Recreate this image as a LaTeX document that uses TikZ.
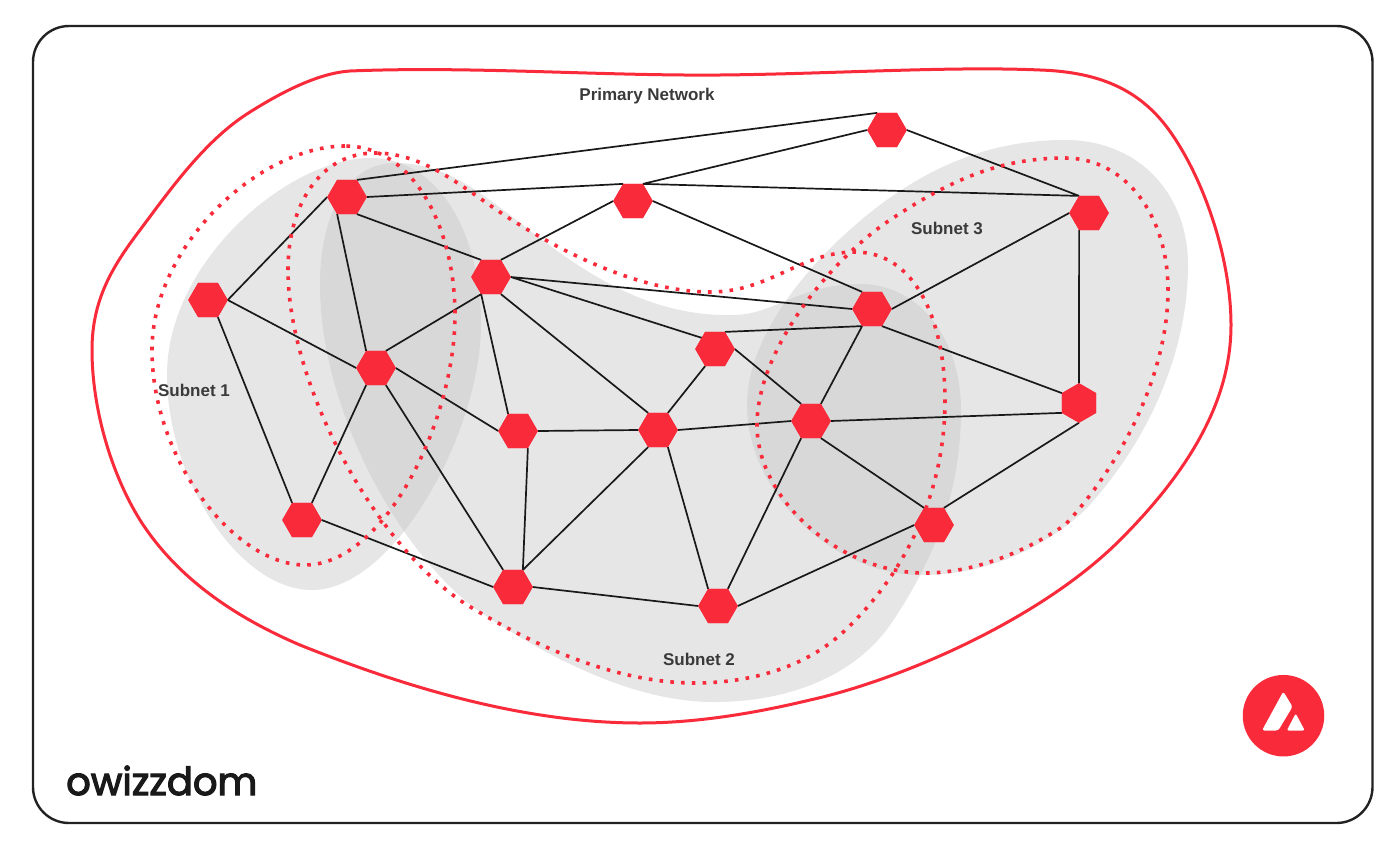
\documentclass[tikz,border=0pt]{standalone}
\usepackage{fontspec}
\setmainfont{Liberation Sans}
\newfontfamily\handfont[FakeBold=3]{Poppins}
\usetikzlibrary{shapes.geometric}
\definecolor{avared}{HTML}{F92A3A}
\definecolor{blobgray}{HTML}{E6E6E6}
\definecolor{blobdark}{HTML}{D8D8D8}
\definecolor{txtgray}{HTML}{3A3A3A}
\definecolor{frameink}{HTML}{222222}
\def\blobA{(370,158) .. controls (290,158) and (167,260) .. (167,375) .. controls (167,480) and (240,590) .. (312,590) .. controls (395,590) and (481,430) .. (481,325) .. controls (481,235) and (440,158) .. (370,158) -- cycle}
\def\blobB{(395,163) .. controls (440,163) and (470,185) .. (510,215) .. controls (570,262) and (640,318) .. (735,315) .. controls (775,314) and (800,284) .. (860,284) .. controls (920,284) and (961,340) .. (961,410) .. controls (961,490) and (935,560) .. (890,625) .. controls (855,675) and (790,702) .. (714,702) .. controls (640,702) and (560,665) .. (480,612) .. controls (400,555) and (320,410) .. (320,285) .. controls (320,210) and (350,163) .. (395,163) -- cycle}
\def\blobC{(1065,140) .. controls (1140,140) and (1188,195) .. (1188,265) .. controls (1188,350) and (1150,440) .. (1085,510) .. controls (1030,560) and (970,575) .. (921,575) .. controls (830,575) and (747,490) .. (747,405) .. controls (747,330) and (820,250) .. (880,205) .. controls (940,160) and (1000,140) .. (1065,140) -- cycle}
\tikzset{
  hexnode/.style={regular polygon,regular polygon sides=6,minimum size=39.5,inner sep=0,outer sep=0,fill=avared},
  link/.style={draw=black!90,line width=1.7},
  dotline/.style={draw=avared,line width=3.6,dash pattern=on 3.6 off 7.2},
  caption/.style={font=\bfseries\fontsize{17}{20}\selectfont,text=txtgray,inner sep=0}
}
\begin{document}
\begin{tikzpicture}[x=1pt,y=-1pt]
\useasboundingbox (0,0) rectangle (1398,844);
% frame
\draw[frameink,line width=2.4,fill=white,rounded corners=36] (33,26) rectangle (1372.5,823);
% subnet areas
\fill[blobgray] \blobA;
\fill[blobgray] \blobB;
\fill[blobgray] \blobC;
\begin{scope}\clip \blobA; \fill[blobdark] \blobB;\end{scope}
\begin{scope}\clip \blobB; \fill[blobdark] \blobC;\end{scope}
% primary network outline
\draw[avared,line width=3] (350,71) .. controls (470,66) and (600,76) .. (720,75)
 .. controls (830,74) and (950,66) .. (1040,70)
 .. controls (1100,72) and (1140,90) .. (1169,130)
 .. controls (1205,180) and (1231,260) .. (1231,325)
 .. controls (1231,400) and (1190,470) .. (1120,540)
 .. controls (1040,620) and (900,680) .. (810,700)
 .. controls (760,712) and (700,723) .. (640,723)
 .. controls (520,723) and (400,685) .. (300,645)
 .. controls (230,615) and (175,575) .. (140,520)
 .. controls (112,475) and (92,410) .. (92,350)
 .. controls (92,300) and (112,267) .. (140,230)
 .. controls (170,190) and (205,140) .. (250,112)
 .. controls (285,90) and (320,73) .. (350,71) -- cycle;
% nodes
\node[hexnode] (A) at (887,130) {};
\node[hexnode] (B) at (347,197) {};
\node[hexnode] (C) at (633,201) {};
\node[hexnode] (D) at (1089,213) {};
\node[hexnode] (E) at (491,277) {};
\node[hexnode] (F) at (208,300) {};
\node[hexnode] (G) at (872,309) {};
\node[hexnode] (H) at (715,349) {};
\node[hexnode] (I) at (376,368) {};
\node[hexnode,regular polygon rotate=30] (J) at (1079,403) {};
\node[hexnode] (K) at (518,431) {};
\node[hexnode] (L) at (658,430) {};
\node[hexnode] (M) at (811,421) {};
\node[hexnode] (N) at (302,520) {};
\node[hexnode] (O) at (934,525) {};
\node[hexnode] (P) at (513,587) {};
\node[hexnode] (Q) at (718,606) {};
% connectors
\path[link]
 (B.60)--(A.120) (C.60)--(A.180) (A.0)--(D.120) (B.0)--(C.120) (C.60)--(D.120)
 (C.180)--(E.60) (C.0)--(G.120) (B.180)--(F.0) (F.0)--(I.180) (B.-120)--(I.120)
 (B.-60)--(E.120) (F.-60)--(N.120) (E.0)--(G.180) (E.0)--(H.140) (E.-60)--(L.120)
 (E.-120)--(K.120) (E.-120)--(I.60) (I.0)--(K.180) (I.-60)--(P.120) (I.-120)--(N.60)
 (N.0)--(P.180) (K.0)--(L.180) (K.-60)--(P.60) (L.-120)--(P.60) (L.60)--(H.-120)
 (L.0)--(M.180) (L.-60)--(Q.120) (H.60)--(G.-120) (H.0)--(M.120) (G.-120)--(M.60)
 (G.0)--(D.180) (G.-60)--(J.150) (D.-120)--(J.90) (M.0)--(J.-150) (M.-60)--(O.120)
 (M.-120)--(Q.60) (J.-90)--(O.60) (O.180)--(Q.0) (P.0)--(Q.180);
% dotted subnet borders
\draw[dotline] (345,146) .. controls (260,146) and (152,245) .. (152,350)
 .. controls (152,460) and (235,565) .. (305,565)
 .. controls (385,565) and (455,420) .. (455,315)
 .. controls (455,230) and (415,146) .. (345,146) -- cycle;
\draw[dotline] (288,270) .. controls (288,205) and (320,153) .. (375,153)
 .. controls (430,153) and (470,195) .. (520,225)
 .. controls (580,262) and (650,292) .. (710,292)
 .. controls (770,292) and (800,252) .. (855,252)
 .. controls (915,252) and (945,320) .. (945,400)
 .. controls (945,510) and (890,590) .. (840,635)
 .. controls (800,670) and (745,683) .. (695,683)
 .. controls (620,683) and (540,650) .. (464,603)
 .. controls (370,540) and (288,380) .. (288,270) -- cycle;
\draw[dotline] (1065,158) .. controls (1125,158) and (1168,215) .. (1168,290)
 .. controls (1168,370) and (1125,460) .. (1065,525)
 .. controls (1020,555) and (970,573) .. (925,573)
 .. controls (840,573) and (757,500) .. (757,425)
 .. controls (757,350) and (830,260) .. (890,220)
 .. controls (950,180) and (1000,158) .. (1065,158) -- cycle;
% node bodies above the lines
\foreach \n in {A,B,C,D,E,F,G,H,I,K,L,M,N,O,P,Q}{\node[hexnode] at (\n) {};}
\node[hexnode,regular polygon rotate=30] at (J) {};
% labels
\node[caption] (t0) at (647,96) {Primary Network};
\node[caption] (t1) at (194,390) {Subnet 1};
\node[caption] (t2) at (699,659) {Subnet 2};
\node[caption] (t3) at (947,228) {Subnet 3};
\node[font=\handfont\fontsize{38.5}{42}\selectfont,text=black!90,inner sep=0,anchor=base west] (brand) at (66,795) {owizzdom};
% logo
\node[circle,fill=avared,minimum size=81.5,inner sep=0] (logo) at (1283.5,715.7) {};
\fill[white,rounded corners=2.5] (1283.3,691.5)--(1292.5,706.7)--(1278.3,730.5)--(1262,730.5)--cycle;
\fill[white,rounded corners=2] (1295.7,713.5)--(1304.8,730.5)--(1286.8,730.5)--cycle;
\end{tikzpicture}
\end{document}
